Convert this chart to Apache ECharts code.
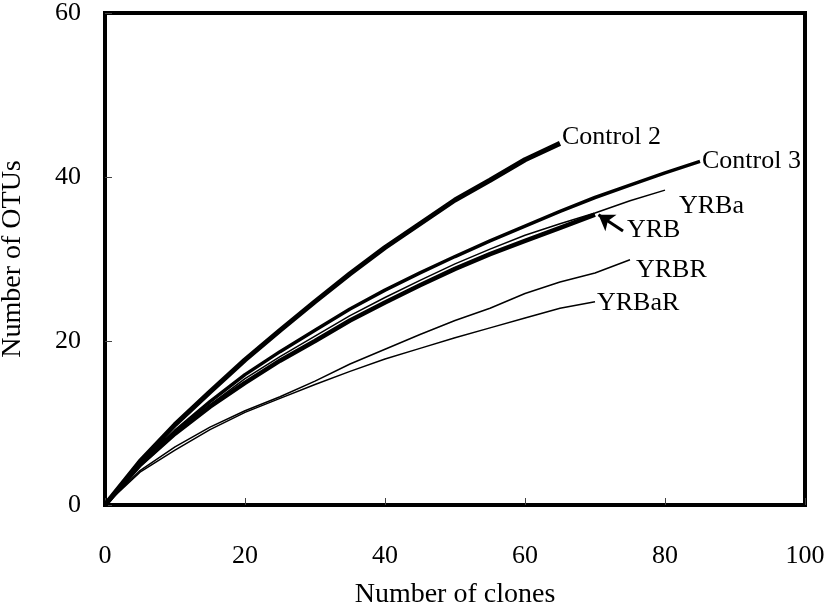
<!DOCTYPE html>
<html>
<head>
<meta charset="utf-8">
<script src="https://cdn.jsdelivr.net/npm/echarts@6/dist/echarts.min.js"></script>
<style>
  html, body { margin: 0; padding: 0; background: #fff; }
  #chart { width: 825px; height: 612px; }
</style>
</head>
<body>
<div id="chart"></div>
<script>
// rarefaction curves, values
const control2 = [[0,0],[5,5.3],[10,9.8],[15,13.8],[20,17.7],[25,21.3],[30,24.8],[35,28.2],[40,31.4],[45,34.3],[50,37.2],[55,39.6],[60,42.1],[65,44.1]];
const control3 = [[0,0],[5,5],[10,9],[15,12.6],[20,15.9],[25,18.7],[30,21.3],[35,23.9],[40,26.2],[45,28.3],[50,30.3],[55,32.2],[60,34.0],[65,35.8],[70,37.5],[75,39.0],[80,40.5],[85,41.9]];
const yrb = [[0,0],[5,4.9],[10,8.7],[15,12],[20,14.9],[25,17.6],[30,20.0],[35,22.5],[40,24.7],[45,26.8],[50,28.8],[55,30.6],[60,32.2],[65,33.8],[70,35.4]];
const yrba = [[0,0],[5,4.7],[10,8.6],[15,12.2],[20,15.4],[25,18.1],[30,20.6],[35,23.1],[40,25.3],[45,27.4],[50,29.4],[55,31.2],[60,32.9],[65,34.3],[70,35.6],[75,37.1],[80,38.4]];
const yrbr = [[0,0],[5,4.2],[10,7.1],[15,9.5],[20,11.5],[25,13.2],[30,15.1],[35,17.2],[40,19.0],[45,20.8],[50,22.5],[55,24.0],[60,25.8],[65,27.2],[70,28.3],[75,29.9]];
const yrbar = [[0,0],[5,4.0],[10,6.7],[15,9.2],[20,11.3],[25,13.0],[30,14.7],[35,16.3],[40,17.8],[45,19.1],[50,20.4],[55,21.6],[60,22.8],[65,24.0],[70,24.8]];

const xTicks = [0, 20, 40, 60, 80, 100];
const yTicks = [0, 20, 40, 60];

// arrow pointing at the end of YRB (from, to)
const yrbArrow = [[74, 33.4], [70.5, 35.4]];

const FONT = '"Liberation Serif", "DejaVu Serif", serif';

const chart = echarts.init(document.getElementById('chart'), null, { renderer: 'canvas' });

function line(name, data, width, label, offset) {
    return {
        name: name,
        type: 'line',
        data: data,
        symbol: 'none',
        smooth: false,
        z: width > 2 ? 3 : 4,
        lineStyle: { color: '#000', width: width },
        endLabel: {
            show: true,
            formatter: label,
            fontFamily: FONT,
            fontSize: 26,
            color: '#000',
            distance: 2,
            offset: offset,
        },
        animation: false,
    };
}

const option = {
    backgroundColor: '#fff',
    animation: false,
    grid: {
        left: 105,
        right: 20,
        top: 13,
        bottom: 107,
        outerBoundsMode: 'none',
        show: true,
        borderColor: '#000',
        borderWidth: 4,
        backgroundColor: '#fff',
    },
    xAxis: {
        type: 'value',
        min: 0,
        max: 100,
        interval: 20,
        name: 'Number of clones',
        nameLocation: 'middle',
        nameGap: 76,
        nameTextStyle: { fontFamily: FONT, fontSize: 28, color: '#000' },
        axisLine: { show: false },
        axisTick: { show: true, inside: true, length: 7, lineStyle: { color: '#444', width: 1 } },
        axisLabel: {
            margin: 38,
            fontFamily: FONT,
            fontSize: 26,
            color: '#000',
            formatter: v => xTicks.includes(v) ? String(v) : '',
        },
        splitLine: { show: false },
    },
    yAxis: {
        type: 'value',
        min: 0,
        max: 60,
        interval: 20,
        name: 'Number of OTUs',
        nameLocation: 'middle',
        nameGap: 78,
        nameTextStyle: { fontFamily: FONT, fontSize: 28, color: '#000' },
        axisLine: { show: false },
        axisTick: { show: true, inside: true, length: 7, lineStyle: { color: '#444', width: 1 } },
        axisLabel: {
            margin: 24,
            fontFamily: FONT,
            fontSize: 26,
            color: '#000',
            formatter: v => yTicks.includes(v) ? String(v) : '',
        },
        splitLine: { show: false },
    },
    series: [
        line('Control 2', control2, 5, 'Control 2', [0, -6]),
        line('Control 3', control3, 3.5, 'Control 3', [0, 0]),
        line('YRBa', yrba, 1.5, 'YRBa', [12, 16]),
        line('YRB', yrb, 4.5, 'YRB', [30, 15]),
        line('YRBR', yrbr, 1.5, 'YRBR', [4, 10]),
        line('YRBaR', yrbar, 1.5, 'YRBaR', [0, 2]),
        {
            name: 'arrow',
            type: 'line',
            data: [],
            z: 10,
            markLine: {
                silent: true,
                animation: false,
                symbol: ['none', 'arrow'],
                symbolSize: 15,
                lineStyle: { color: '#000', width: 3, type: 'solid' },
                itemStyle: { color: '#000' },
                label: { show: false },
                emphasis: { disabled: true },
                data: [[{ coord: yrbArrow[0] }, { coord: yrbArrow[1] }]],
            },
        },
    ],
};

chart.setOption(option);
</script>
</body>
</html>
